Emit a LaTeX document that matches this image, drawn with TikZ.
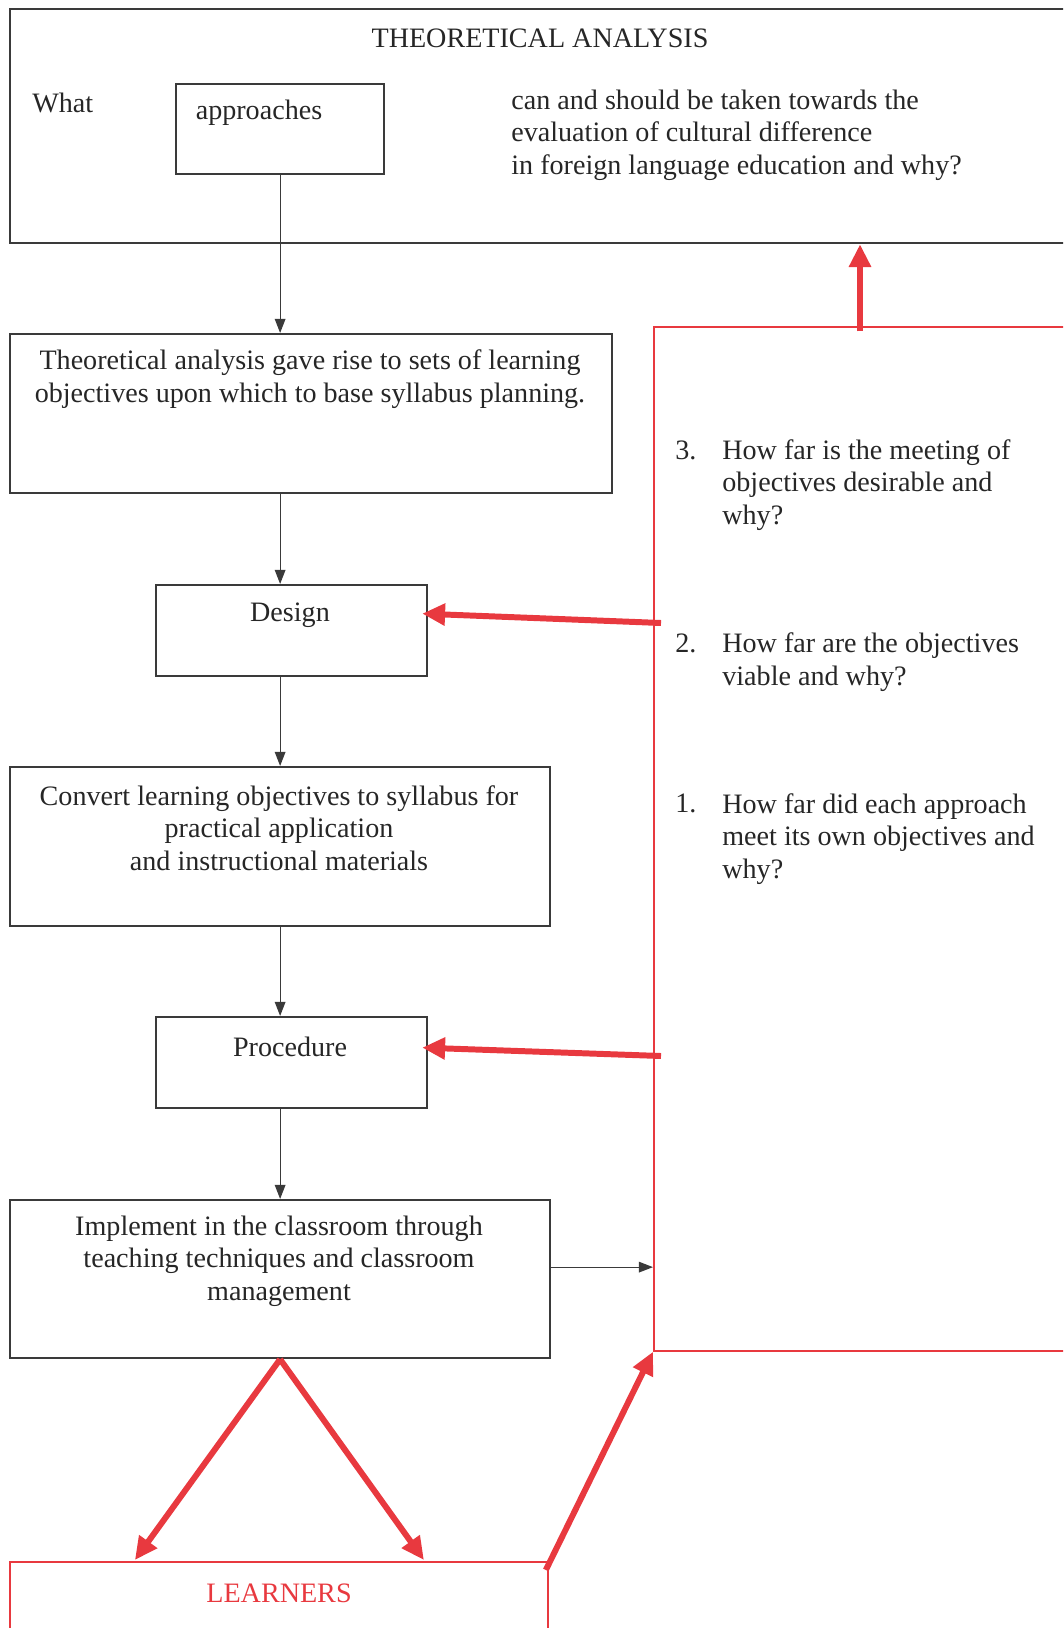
\documentclass[tikz,border=0pt]{standalone}
\usepackage{fontspec}
\setmainfont{Liberation Serif}
\definecolor{ink}{HTML}{3A3A3A}
\definecolor{txt}{HTML}{262626}
\definecolor{alert}{HTML}{E8393F}
\usetikzlibrary{positioning, arrows.meta, calc}

\begin{document}
\begin{tikzpicture}[x=0.02cm, y=-0.02cm,
  every node/.style={font=\fontsize{16}{18.6}\selectfont, align=center, inner sep=0pt, text=txt},
  box/.style={draw=ink, line width=1.3pt, anchor=north west},
  redbox/.style={draw=alert, line width=1.1pt, anchor=north west},
  flow/.style={draw=ink, line width=0.7pt, -{Triangle[length=8pt, width=6pt]}},
  fb/.style={draw=alert, line width=3.4pt, -{Triangle[length=13pt, width=12pt]}},
  qtext/.style={align=left, anchor=west}]
\useasboundingbox (0,0) rectangle (1063,1628);
\clip (0,0) rectangle (1063,1628);

\node[box, minimum width=21.42cm, minimum height=4.68cm] (top) at (9,8) {};
\node[box, minimum width=4.16cm, minimum height=1.80cm] (appr) at (175,83) {};
\node[box, minimum width=12.04cm, minimum height=3.18cm] (plan) at (9,333) {};
\node[box, minimum width=5.42cm, minimum height=1.82cm] (design) at (155,584) {};
\node[box, minimum width=10.80cm, minimum height=3.18cm] (convert) at (9,766) {};
\node[box, minimum width=5.42cm, minimum height=1.82cm] (proc) at (155,1016) {};
\node[box, minimum width=10.80cm, minimum height=3.16cm] (impl) at (9,1199) {};
\node[redbox, minimum width=10.76cm, minimum height=1.98cm] (learn) at (9,1561) {};
\node[redbox, minimum width=8.54cm, minimum height=20.48cm] (qs) at (653,326) {};

\node (title) at (540,38) {THEORETICAL ANALYSIS};
\node[anchor=west] (what) at (32,103) {What};
\node (apprtxt) at (259,113) {approaches};
\node[qtext] (toptxt) at (511,135) {can and should be taken towards the\\evaluation of cultural difference\\in foreign language education and why?};
\node (plantxt) at (310,379) {Theoretical analysis gave rise to sets of learning\\objectives upon which to base syllabus planning.};
\node (designtxt) at (290,615) {Design};
\node (converttxt) at (279,828) {Convert learning objectives to syllabus for\\practical application\\and instructional materials};
\node (proctxt) at (290,1047) {Procedure};
\node (impltxt) at (279,1261) {Implement in the classroom through\\teaching techniques and classroom\\management};
\node[text=alert] (learntxt) at (279,1593) {LEARNERS};

\node[anchor=west] (n3) at (675,450) {3.};
\node[qtext] (q3) at (722,485) {How far is the meeting of\\objectives desirable and\\why?};
\node[anchor=west] (n2) at (675,643) {2.};
\node[qtext] (q2) at (722,662) {How far are the objectives\\viable and why?};
\node[anchor=west] (n1) at (675,803) {1.};
\node[qtext] (q1) at (722,839) {How far did each approach\\meet its own objectives and\\why?};

\draw[flow] (appr.south) -- (appr.south |- plan.north);
\draw[flow] (plan.south -| appr.south) -- (design.north -| appr.south);
\draw[flow] (design.south -| appr.south) -- (convert.north -| appr.south);
\draw[flow] (convert.south -| appr.south) -- (proc.north -| appr.south);
\draw[flow] (proc.south -| appr.south) -- (impl.north -| appr.south);

\coordinate (implout) at ($(impl.east)+(0,-12)$);
\draw[flow] (implout) -- (implout -| qs.west);

\coordinate (upx) at (860,0);
\draw[fb] ([yshift=-3pt]qs.north -| upx) -- (top.south -| upx);
\coordinate (fromq2) at (661,623);
\draw[fb] (fromq2) -- ($(design.east)+(-6,-17)$);
\coordinate (fromq1) at (661,1056);
\draw[fb] (fromq1) -- ($(proc.east)+(-6,-15)$);
\draw[fb] (impl.south) -- ($(learn.north)+(-144,-1)$);
\draw[fb] (impl.south) -- ($(learn.north)+(145,-1)$);
\draw[fb] ($(learn.north east)+(-3,9)$) -- (qs.south west);
\end{tikzpicture}
\end{document}
